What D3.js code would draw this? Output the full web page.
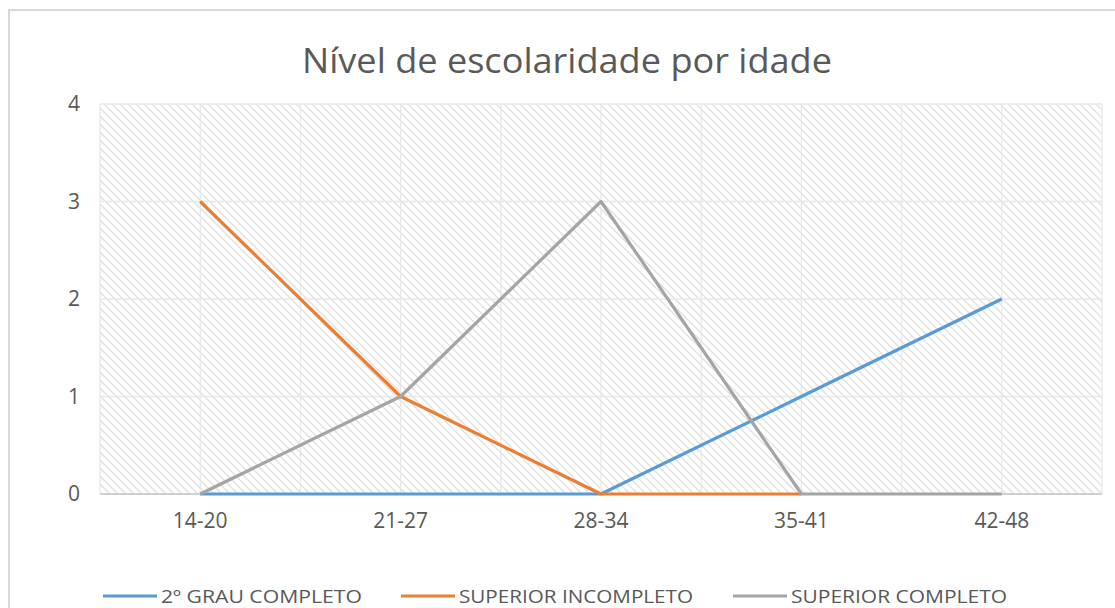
<!DOCTYPE html>
<html>
<head>
<meta charset="utf-8">
<script src="https://cdn.jsdelivr.net/npm/d3@7"></script>
<style>
  body { margin: 0; background: #fff; }
  text { font-family: "Open Sans", sans-serif; fill: #595959; }
</style>
</head>
<body>
<div id="chart"></div>
<script>
// data
var categories = ["14-20", "21-27", "28-34", "35-41", "42-48"];
var seriesNames = ["2º GRAU COMPLETO", "SUPERIOR INCOMPLETO", "SUPERIOR COMPLETO"];
var grau2Completo = [0, 0, 0, 1, 2];
var superiorIncompleto = [3, 1, 0, 0, null];
var superiorCompleto = [0, 1, 3, 0, 0];
var yTicks = [0, 1, 2, 3, 4];
var colors = ["#5b9bd5", "#ed7d31", "#a5a5a5"];

var width = 1115, height = 608;
var plot = {left: 100, right: 1102, top: 104, bottom: 494};

var svg = d3.select("#chart").append("svg")
    .attr("width", width)
    .attr("height", height);

// hatch pattern for the plot area
var defs = svg.append("defs");
var pat = defs.append("pattern")
    .attr("id", "hatch")
    .attr("patternUnits", "userSpaceOnUse")
    .attr("width", 8).attr("height", 8);
pat.append("rect").attr("width", 8).attr("height", 8).attr("fill", "#fff");
pat.append("path")
    .attr("d", "M-2,-2 L10,10 M-2,6 L2,10 M6,-2 L10,2")
    .attr("stroke", "#e2e2e2")
    .attr("stroke-width", 1.5);

// outer chart border
svg.append("rect")
    .attr("x", 9).attr("y", 10)
    .attr("width", width + 10).attr("height", height + 10)
    .attr("fill", "none")
    .attr("stroke", "#d9d9d9")
    .attr("stroke-width", 2);

var x = d3.scaleBand()
    .domain(categories)
    .range([plot.left, plot.right])
    .padding(0);
var bw = x.bandwidth();
var cx = function(c){ return x(c) + bw / 2; };

var y = d3.scaleLinear()
    .domain([0, 4])
    .range([plot.bottom, plot.top]);

svg.append("rect")
    .attr("x", plot.left).attr("y", plot.top)
    .attr("width", plot.right - plot.left)
    .attr("height", plot.bottom - plot.top)
    .attr("fill", "url(#hatch)");

// gridlines
var g = svg.append("g");
g.selectAll(".hgrid").data(yTicks).enter().append("line")
    .attr("x1", plot.left).attr("x2", plot.right)
    .attr("y1", function(d){ return y(d); })
    .attr("y2", function(d){ return y(d); })
    .attr("stroke", function(d){ return d === 0 ? "#d0d0d0" : "#e8e8e8"; })
    .attr("stroke-width", function(d){ return d === 0 ? 2 : 1.3; });

var vx = [];
categories.forEach(function(c){ vx.push(x(c)); vx.push(cx(c)); });
vx.push(plot.right);
g.selectAll(".vgrid").data(vx).enter().append("line")
    .attr("x1", function(d){ return d; }).attr("x2", function(d){ return d; })
    .attr("y1", plot.top).attr("y2", plot.bottom)
    .attr("stroke", "#e8e8e8")
    .attr("stroke-width", 1.3);

// axes labels
var yAxis = d3.axisLeft(y).tickValues(yTicks).tickFormat(d3.format("d")).tickSize(0).tickPadding(0);
svg.append("g")
    .attr("transform", "translate(80,0)")
    .call(yAxis)
    .attr("font-size", 21)
    .attr("font-family", null)
    .call(function(s){ s.select(".domain").remove(); })
    .selectAll("text")
    .attr("fill", "#595959");

var xAxis = d3.axisBottom(x).tickSize(0).tickPadding(0);
svg.append("g")
    .attr("transform", "translate(0,513)")
    .call(xAxis)
    .attr("font-size", 21)
    .attr("font-family", null)
    .call(function(s){ s.select(".domain").remove(); })
    .selectAll("text")
    .attr("fill", "#595959");

// lines
var allSeries = [grau2Completo, superiorIncompleto, superiorCompleto];
var line = d3.line()
    .defined(function(d){ return d != null; })
    .x(function(d, i){ return cx(categories[i]); })
    .y(function(d){ return y(d); });

svg.selectAll(".series").data(allSeries).enter().append("path")
    .attr("d", line)
    .attr("fill", "none")
    .attr("stroke", function(d, i){ return colors[i]; })
    .attr("stroke-width", 3.2)
    .attr("stroke-linejoin", "round");

// title
svg.append("text")
    .attr("x", 567).attr("y", 73)
    .attr("text-anchor", "middle")
    .attr("textLength", 530)
    .attr("lengthAdjust", "spacingAndGlyphs")
    .style("font-size", "35px")
    .text("Nível de escolaridade por idade");

// legend
var legX = [103, 401, 733];
var legTextW = [201, 234, 216];
var leg = svg.selectAll(".leg").data(seriesNames).enter().append("g")
    .attr("transform", function(d, i){ return "translate(" + legX[i] + ",596)"; });
leg.append("line")
    .attr("x1", 0).attr("x2", 54)
    .attr("stroke", function(d, i){ return colors[i]; })
    .attr("stroke-width", 3);
leg.append("text")
    .attr("x", 58).attr("y", 7)
    .attr("textLength", function(d, i){ return legTextW[i]; })
    .attr("lengthAdjust", "spacingAndGlyphs")
    .style("font-size", "19px")
    .text(function(d){ return d; });
</script>
</body>
</html>
